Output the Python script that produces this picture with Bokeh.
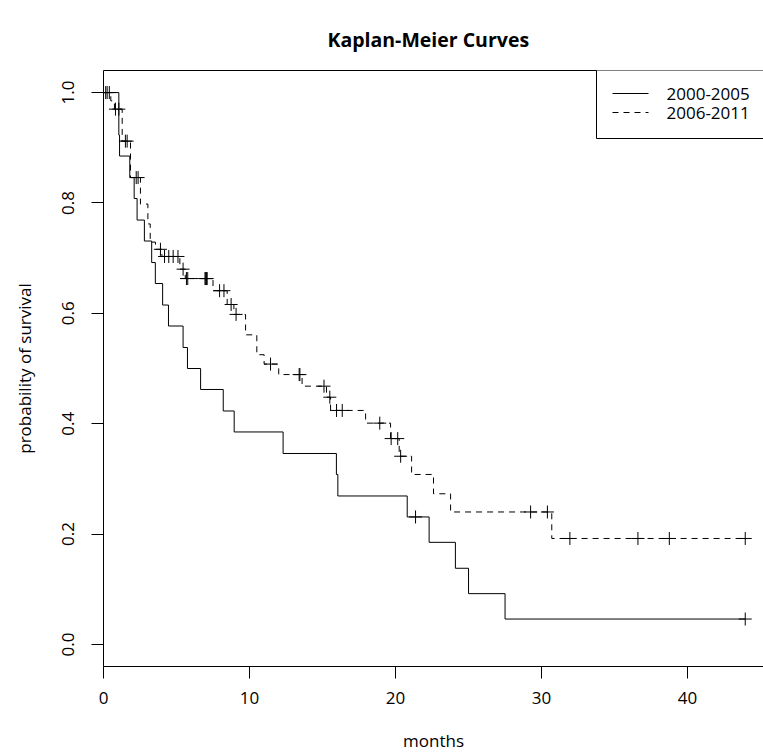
import numpy as np
from bokeh.plotting import figure
from bokeh.models import (Range1d, FixedTicker, NumeralTickFormatter,
                          LinearAxis, ColumnDataSource, Label, Arrow,
                          BoxAnnotation)
from bokeh.embed import file_html
from bokeh.resources import INLINE

# ---------------- data ----------------
group_labels = ["2000-2005", "2006-2011"]
title_text = "Kaplan-Meier Curves"

# group 1: 2000-2005  (event times in months, survival after each step)
g1_times = [0, 1.05, 1.1, 1.8, 2.1, 2.3, 2.8, 3.3, 3.55, 4.05, 4.45, 5.45,
            5.75, 6.65, 8.2, 8.95, 12.3, 15.95, 16.05, 20.8, 22.3, 24.1,
            25.0, 27.5]
g1_surv = [1.0, 0.923, 0.885, 0.846, 0.808, 0.769, 0.731, 0.692, 0.654,
           0.615, 0.577, 0.538, 0.500, 0.462, 0.423, 0.385, 0.346, 0.308,
           0.269, 0.231, 0.185, 0.138, 0.092, 0.046]
g1_censor = [0.15, 21.37, 43.95]

# group 2: 2006-2011
g2_times = [0, 0.5, 0.75, 1.28, 1.85, 2.53, 3.04, 3.2, 3.56, 4.0, 5.23,
            5.6, 7.5, 8.47, 8.93, 9.73, 10.5, 11.0, 12.0, 13.6, 15.27,
            15.55, 17.95, 19.66, 20.25, 21.1, 22.6, 23.77, 30.7]
g2_surv = [1.0, 0.985, 0.970, 0.912, 0.846, 0.798, 0.762, 0.729, 0.716,
           0.703, 0.680, 0.663, 0.641, 0.616, 0.598, 0.561, 0.525, 0.508,
           0.489, 0.468, 0.448, 0.424, 0.401, 0.373, 0.341, 0.308, 0.273,
           0.240, 0.192]
g2_censor = [0.25, 0.4, 0.82, 1.05, 1.5, 1.62, 2.24, 2.37, 3.9, 4.18, 4.47,
             4.77, 5.1, 5.45, 5.68, 5.77, 6.95, 7.0, 7.05, 7.1, 7.95, 8.25,
             8.74, 9.08, 11.44, 13.4, 13.45, 15.1, 15.5, 15.96, 16.35,
             18.92, 19.7, 20.15, 20.35, 29.25, 30.4, 31.94, 36.6, 38.75,
             43.95]

x_ticks = [0, 10, 20, 30, 40]
y_ticks = [0.0, 0.2, 0.4, 0.6, 0.8, 1.0]

FONT = "Open Sans"
DASH = "6 5"


def step_source(times, surv, censor):
    end = max(max(censor), max(times))
    xs = list(times) + [end]
    ys = list(surv) + [surv[-1]]
    return ColumnDataSource(dict(x=xs, y=ys))


def censor_source(times, surv, censor):
    t = np.asarray(times)
    s = np.asarray(surv)
    cy = [s[np.searchsorted(t, c, side="right") - 1] for c in censor]
    return ColumnDataSource(dict(x=list(censor), y=cy))


p = figure(width=763, height=756,
           x_range=Range1d(0, 45.2), y_range=Range1d(-0.04, 1.04),
           output_backend="svg", toolbar_location=None,
           min_border_left=103, min_border_right=0,
           min_border_top=70, min_border_bottom=90,
           background_fill_color="white", border_fill_color="white")
p.outline_line_color = None
p.xgrid.visible = False
p.ygrid.visible = False

# title (in the top panel)
p.title.text = title_text
p.title.align = "left"
p.title.offset = 224
p.title.vertical_align = "top"
p.title.text_font = FONT
p.title.text_font_size = "19.5px"
p.title.text_font_style = "bold"
p.title.text_color = "black"
p.title.standoff = 32

for ax in (p.xaxis[0], p.yaxis[0]):
    ax.axis_line_color = "black"
    ax.axis_line_width = 1
    ax.major_tick_line_color = "black"
    ax.major_tick_out = 12
    ax.major_tick_in = 0
    ax.minor_tick_line_color = None
    ax.major_label_text_font = FONT
    ax.major_label_text_font_size = "17px"
    ax.major_label_text_color = "black"
    ax.axis_label_text_font = FONT
    ax.axis_label_text_font_size = "17px"
    ax.axis_label_text_font_style = "normal"
    ax.axis_label_text_color = "black"

p.xaxis.ticker = FixedTicker(ticks=x_ticks)
p.yaxis.ticker = FixedTicker(ticks=y_ticks)
p.yaxis.formatter = NumeralTickFormatter(format="0.0")
p.xaxis.axis_label = "months"
p.yaxis.axis_label = "probability of survival"
p.yaxis.major_label_orientation = "vertical"
p.xaxis.major_label_standoff = 13
p.xaxis.axis_label_standoff = 22
p.yaxis.major_label_standoff = 17
p.yaxis.axis_label_standoff = 24

# top border of the box (invisible tick space lifts the title)
top = LinearAxis(axis_line_color="black", major_tick_line_color=None,
                 minor_tick_line_color=None, major_label_text_font_size="0px",
                 major_tick_out=10, major_tick_in=0, major_label_standoff=0,
                 axis_label_standoff=0, ticker=FixedTicker(ticks=[]))
p.add_layout(top, "above")

src1 = step_source(g1_times, g1_surv, g1_censor)
src2 = step_source(g2_times, g2_surv, g2_censor)
p.step("x", "y", source=src1, mode="after", line_color="black", line_width=1)
p.step("x", "y", source=src2, mode="after", line_color="black",
       line_width=1, line_dash=DASH)

p.scatter("x", "y", source=censor_source(g1_times, g1_surv, g1_censor),
          marker="cross", size=13, line_color="black", line_width=1)
p.scatter("x", "y", source=censor_source(g2_times, g2_surv, g2_censor),
          marker="cross", size=13, line_color="black", line_width=1)

# legend box at the top right (screen units, relative to the frame)
p.add_layout(BoxAnnotation(left=493, right=720, top=597, bottom=528,
                           left_units="screen", right_units="screen",
                           top_units="screen", bottom_units="screen",
                           fill_color="white", fill_alpha=1,
                           line_color="black", line_width=1, line_alpha=1))
rows_y = [573, 554]
dashes = [None, DASH]
for label, ry, dash in zip(group_labels, rows_y, dashes):
    kw = dict(line_dash=dash) if dash else {}
    p.add_layout(Arrow(x_start=509, y_start=ry, x_end=545, y_end=ry,
                       start_units="screen", end_units="screen",
                       start=None, end=None, line_color="black",
                       line_width=1, **kw))
    p.add_layout(Label(x=563, y=ry, x_units="screen", y_units="screen",
                       text=label, text_align="left", text_baseline="middle",
                       text_font=FONT, text_font_size="17px",
                       text_color="black"))

open("out.html", "w").write(file_html(p, INLINE))
